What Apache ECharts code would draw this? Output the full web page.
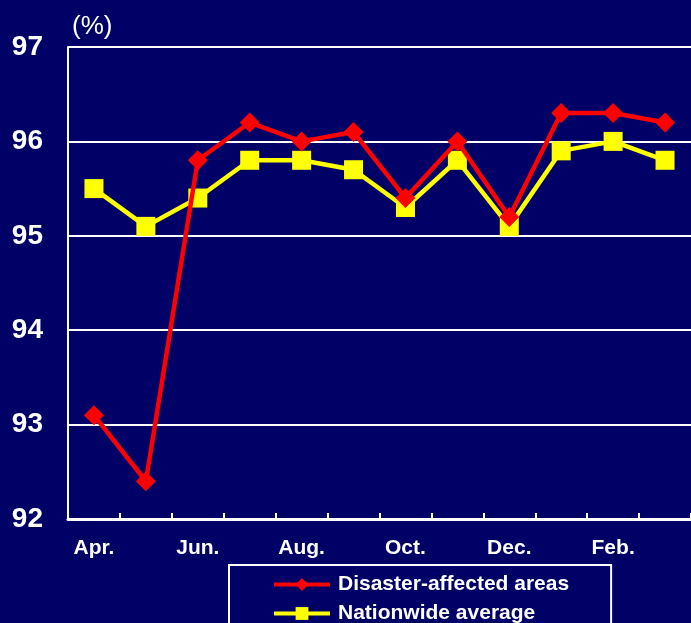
<!DOCTYPE html>
<html>
<head>
<meta charset="utf-8">
<script src="https://cdn.jsdelivr.net/npm/echarts@6/dist/echarts.min.js"></script>
<style>
  html, body { margin: 0; padding: 0; background: #000066; }
  #main { width: 691px; height: 623px; }
</style>
</head>
<body>
<div id="main"></div>
<script>
// months (Apr. to Mar.)
var months = ['Apr.', 'May', 'Jun.', 'Jul.', 'Aug.', 'Sep.', 'Oct.', 'Nov.', 'Dec.', 'Jan.', 'Feb.', 'Mar.'];
var disasterAreas = [93.1, 92.4, 95.8, 96.2, 96.0, 96.1, 95.4, 96.0, 95.2, 96.3, 96.3, 96.2];
var nationwide = [95.5, 95.1, 95.4, 95.8, 95.8, 95.7, 95.3, 95.8, 95.1, 95.9, 96.0, 95.8];
var yTicks = [92, 93, 94, 95, 96, 97];

var font = "'Liberation Sans', Arial, sans-serif";

var myChart = echarts.init(document.getElementById('main'));
var option = {
	backgroundColor: '#000066',
	animation: false,
	graphic: [{
		type: 'text',
		left: 72,
		top: 14,
		style: { text: '(%)', fill: '#fff', font: '26px ' + font }
	}],
	grid: {
		left: 68,
		top: 47,
		width: 624,
		height: 472
	},
	legend: {
		orient: 'vertical',
		left: 229,
		top: 565,
		height: 90,
		padding: [9, 42, 20, 43],
		borderColor: '#fff',
		borderWidth: 2,
		itemWidth: 56,
		itemHeight: 16,
		itemGap: 8,
		lineStyle: { width: 4 },
		textStyle: { color: '#fff', fontFamily: font, fontWeight: 'bold', fontSize: 21, padding: [0, 0, 0, 3] },
		data: ['Disaster-affected areas', 'Nationwide average']
	},
	xAxis: {
		type: 'category',
		data: months,
		boundaryGap: true,
		axisLine: { lineStyle: { color: '#fff', width: 3 } },
		axisTick: { show: true, inside: true, length: 6, interval: 0, lineStyle: { color: '#fff', width: 2 } },
		axisLabel: {
			interval: 1,
			color: '#fff',
			fontFamily: font,
			fontWeight: 'bold',
			fontSize: 21,
			margin: 19
		}
	},
	yAxis: {
		type: 'value',
		min: yTicks[0],
		max: yTicks[yTicks.length - 1],
		interval: 1,
		axisLine: { show: true, lineStyle: { color: '#fff', width: 2 } },
		axisTick: { show: false },
		splitLine: { lineStyle: { color: '#fff', width: 2 } },
		axisLabel: {
			color: '#fff',
			fontFamily: font,
			fontWeight: 'bold',
			fontSize: 28,
			margin: 25
		}
	},
	series: [{
		name: 'Disaster-affected areas',
		type: 'line',
		data: disasterAreas,
		symbol: 'diamond',
		symbolSize: 20,
		z: 3,
		itemStyle: { color: '#ff0000' },
		lineStyle: { color: '#ff0000', width: 4.5 }
	}, {
		name: 'Nationwide average',
		type: 'line',
		data: nationwide,
		symbol: 'rect',
		symbolSize: 19,
		z: 2,
		itemStyle: { color: '#ffff00' },
		lineStyle: { color: '#ffff00', width: 4.5 }
	}]
};
myChart.setOption(option);
</script>
</body>
</html>
